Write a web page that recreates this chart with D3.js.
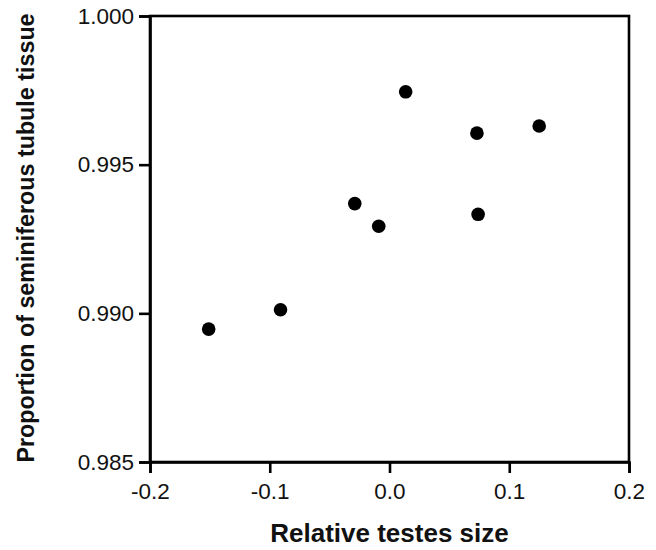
<!DOCTYPE html>
<html><head><meta charset="utf-8">
<script src="https://cdn.jsdelivr.net/npm/d3@7"></script>
<style>body{margin:0;background:#fff}svg{display:block}</style>
</head><body>
<script>
const relTestesSize = [-0.151, -0.091, -0.029, -0.009, 0.0135, 0.073, 0.074, 0.125];
const seminiferousProp = [0.98947, 0.99012, 0.99369, 0.99293, 0.99745, 0.99606, 0.99333, 0.99630];
const xTicks = [-0.2, -0.1, 0.0, 0.1, 0.2];
const yTicks = [0.985, 0.990, 0.995, 1.000];
const xTitle = "Relative testes size";
const yTitle = "Proportion of seminiferous tubule tissue";

const W = 656, H = 550;
const m = {left: 150, right: 27, top: 16, bottom: 88};
const svg = d3.select("body").append("svg").attr("width", W).attr("height", H);
const x = d3.scaleLinear().domain([-0.2, 0.2]).range([m.left, W - m.right]);
const y = d3.scaleLinear().domain([0.985, 1.000]).range([H - m.bottom, m.top]);
const font = "Liberation Sans, Arial, sans-serif";

// frame
svg.append("rect").attr("x", x(-0.2)).attr("y", y(1.0))
  .attr("width", x(0.2) - x(-0.2)).attr("height", y(0.985) - y(1.0))
  .attr("fill", "none").attr("stroke", "#000").attr("stroke-width", 2.6);

const xAxis = svg.append("g").attr("transform", `translate(0,${y(0.985)})`)
  .call(d3.axisBottom(x).tickValues(xTicks).tickFormat(d3.format(".1f")).tickSize(11).tickPadding(10));
const yAxis = svg.append("g").attr("transform", `translate(${x(-0.2)},0)`)
  .call(d3.axisLeft(y).tickValues(yTicks).tickFormat(d3.format(".3f")).tickSize(11).tickPadding(5));
[xAxis, yAxis].forEach(g => {
  g.select(".domain").attr("stroke", "#000").attr("stroke-width", 2.6);
  g.selectAll(".tick line").attr("stroke", "#000").attr("stroke-width", 2.6);
  g.selectAll(".tick text").attr("fill", "#111").style("font-family", font).style("font-size", "22.5px");
});
xAxis.selectAll(".tick text").text(d => d3.format(".1f")(d).replace("−", "-"));

svg.selectAll("circle.pt").data(relTestesSize.map((v, i) => [v, seminiferousProp[i]]))
  .enter().append("circle").attr("class", "pt")
  .attr("cx", d => x(d[0])).attr("cy", d => y(d[1])).attr("r", 6.8).attr("fill", "#000");

svg.append("text").attr("x", (x(-0.2) + x(0.2)) / 2).attr("y", 542)
  .attr("text-anchor", "middle").style("font-family", font).style("font-size", "26px")
  .style("font-weight", "bold").attr("fill", "#111").text(xTitle);
svg.append("text").attr("transform", `translate(34,238) rotate(-90)`)
  .attr("text-anchor", "middle").style("font-family", font).style("font-size", "23.3px")
  .style("font-weight", "bold").attr("fill", "#111").text(yTitle);
</script>
</body></html>
